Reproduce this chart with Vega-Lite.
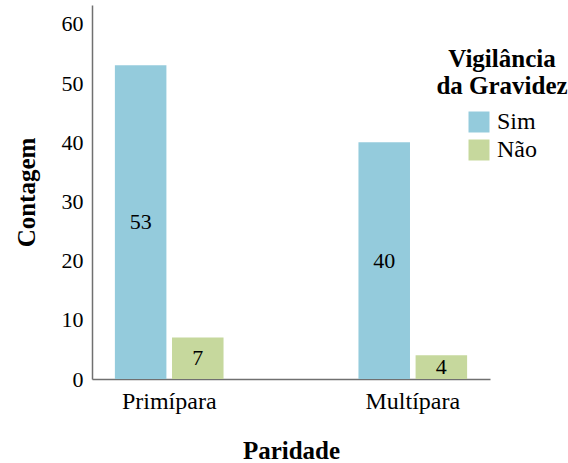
{
  "$schema": "https://vega.github.io/schema/vega-lite/v6.json",
  "autosize": "none",
  "padding": {"left": 92, "top": 5, "right": 78, "bottom": 84},
  "width": 398,
  "height": 374,
  "background": "white",
  "config": {
    "view": {"stroke": null},
    "font": "Liberation Serif",
    "text": {"font": "Liberation Serif"},
    "axis": {"domainColor": "#707070", "domainWidth": 1.5, "ticks": false, "grid": false, "labelColor": "#000000", "titleColor": "#000000", "labelFont": "Liberation Serif", "titleFont": "Liberation Serif"},
    "legend": {"labelFont": "Liberation Serif", "titleFont": "Liberation Serif"}
  },
  "data": {
    "values": [
      {"Paridade": "Primípara", "Vigilancia": "Sim", "Contagem": 53},
      {"Paridade": "Primípara", "Vigilancia": "Não", "Contagem": 7},
      {"Paridade": "Multípara", "Vigilancia": "Sim", "Contagem": 40},
      {"Paridade": "Multípara", "Vigilancia": "Não", "Contagem": 4}
    ]
  },
  "encoding": {
    "x": {
      "field": "Paridade", "type": "nominal", "sort": ["Primípara", "Multípara"],
      "scale": {"paddingInner": 0.5, "paddingOuter": 0.067},
      "axis": {"title": "Paridade", "labelAngle": 0, "labelFontSize": 24, "labelPadding": 10, "titleFontSize": 25, "titleFontWeight": "bold", "titlePadding": 25}
    },
    "xOffset": {
      "field": "Vigilancia", "type": "nominal", "sort": ["Sim", "Não"],
      "scale": {"paddingInner": 0.098, "paddingOuter": 0.115}
    }
  },
  "layer": [
    {
      "mark": {"type": "bar"},
      "encoding": {
        "y": {
          "field": "Contagem", "type": "quantitative",
          "scale": {"domain": [0, 63.2], "nice": false, "zero": true},
          "axis": {"title": "Contagem", "values": [0, 10, 20, 30, 40, 50, 60], "labelFontSize": 22, "labelPadding": 9, "titleFontSize": 25, "titleFontWeight": "bold", "titlePadding": 22}
        },
        "color": {
          "field": "Vigilancia", "type": "nominal",
          "scale": {"domain": ["Sim", "Não"], "range": ["#94cbdc", "#c6d89d"]},
          "legend": {
            "title": ["Vigilância", "da Gravidez"],
            "orient": "none", "legendX": 344, "legendY": 42,
            "padding": 0,
            "titleFontSize": 25, "titleFontWeight": "bold", "titleColor": "#000000",
            "titleAnchor": "middle", "titleAlign": "center", "titleLineHeight": 27, "titlePadding": 11,
            "symbolType": "square", "symbolSize": 441, "symbolStrokeWidth": 0, "symbolOffset": 0,
            "labelOffset": 6, "labelFontSize": 24, "labelColor": "#000000", "rowPadding": 4
          }
        }
      }
    },
    {
      "mark": {"type": "text", "fontSize": 22, "baseline": "middle", "color": "#000000"},
      "encoding": {
        "y": {"field": "Contagem", "type": "quantitative", "scale": {"domain": [0, 126.4], "nice": false, "zero": true}, "axis": null},
        "text": {"field": "Contagem", "type": "quantitative"}
      }
    }
  ],
  "resolve": {"scale": {"y": "independent"}}
}
